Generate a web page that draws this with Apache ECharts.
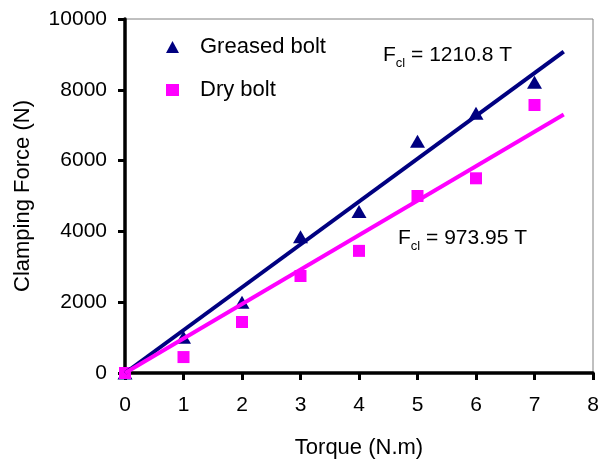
<!DOCTYPE html>
<html>
<head>
<meta charset="utf-8">
<script src="https://cdn.jsdelivr.net/npm/echarts@6/dist/echarts.min.js"></script>
<style>
html,body{margin:0;padding:0;background:#fff;}
#chart{width:606px;height:459px;}
</style>
</head>
<body>
<div id="chart"></div>
<script>
// Data
var torque = [0, 1, 2, 3, 4, 5, 6, 7];
var greasedForce = [0, 1010, 2000, 3850, 4560, 6550, 7340, 8210];
var dryForce = [0, 450, 1440, 2740, 3450, 5000, 5500, 7570];
// Fitted trend lines (F = k T), drawn from T = 0 to T = 7.5
var trendT = [0, 7.5];
var greasedTrend = [0, 9081];
var dryTrend = [0, 7305];
var xTicks = [0, 8, 1];      // min, max, interval
var yTicks = [0, 10000, 2000];
var seriesNames = ['Greased bolt', 'Dry bolt'];
var eqGreased = '1210.8 T';
var eqDry = '973.95 T';

function pairs(xs, ys) { return xs.map(function (x, i) { return [x, ys[i]]; }); }

var FONT = '"Liberation Sans", Arial, sans-serif';
var NAVY = '#000080';
var PINK = '#FF00FF';

var richEq = {
  m: {fontSize: 21, fontFamily: FONT, lineHeight: 28, verticalAlign: 'middle', fill: '#000'},
  s: {fontSize: 13, fontFamily: FONT, lineHeight: 13, verticalAlign: 'bottom', fill: '#000'}
};

var chart = echarts.init(document.getElementById('chart'), null, {renderer: 'canvas'});
chart.setOption({
  animation: false,
  backgroundColor: '#fff',
  textStyle: {fontFamily: FONT},
  grid: {left: 125, right: 13, top: 19, bottom: 86, show: true, borderColor: '#808080', borderWidth: 1,
         containLabel: false, outerBoundsMode: 'none'},
  xAxis: {
    type: 'value', min: xTicks[0], max: xTicks[1], interval: xTicks[2],
    name: 'Torque (N.m)', nameLocation: 'middle', nameGap: 64,
    nameTextStyle: {fontSize: 22, color: '#000', fontFamily: FONT},
    axisLine: {show: true, onZero: false, lineStyle: {color: '#000', width: 3.5}},
    axisTick: {show: true, inside: false, length: 7, lineStyle: {color: '#000', width: 3}},
    axisLabel: {fontSize: 21, color: '#000', margin: 22, fontFamily: FONT},
    splitLine: {show: false}
  },
  yAxis: {
    type: 'value', min: yTicks[0], max: yTicks[1], interval: yTicks[2],
    name: 'Clamping Force (N)', nameLocation: 'middle', nameGap: 91, nameRotate: 90,
    nameTextStyle: {fontSize: 22, color: '#000', fontFamily: FONT},
    axisLine: {show: true, onZero: false, lineStyle: {color: '#000', width: 3.5}},
    axisTick: {show: true, inside: false, length: 7, lineStyle: {color: '#000', width: 3}},
    axisLabel: {fontSize: 21, color: '#000', margin: 18, fontFamily: FONT,
      formatter: function (v) { return String(v); }},
    splitLine: {show: false}
  },
  legend: {
    orient: 'vertical', left: 161, top: 31, itemGap: 21,
    itemWidth: 13, itemHeight: 12,
    textStyle: {fontSize: 22, color: '#000', fontFamily: FONT, padding: [0, 0, 0, 16]},
    data: [
      {name: seriesNames[0], icon: 'triangle', itemStyle: {color: NAVY}},
      {name: seriesNames[1], icon: 'rect', itemStyle: {color: PINK}}
    ]
  },
  series: [
    {name: seriesNames[0], type: 'scatter', symbol: 'triangle', symbolSize: [15, 13],
     itemStyle: {color: NAVY, opacity: 1}, data: pairs(torque, greasedForce), z: 2},
    {name: seriesNames[1], type: 'scatter', symbol: 'rect', symbolSize: 12,
     itemStyle: {color: PINK, opacity: 1}, data: pairs(torque, dryForce), z: 2},
    {name: 'gTrend', type: 'line', showSymbol: false, symbol: 'none',
     lineStyle: {color: NAVY, width: 4}, data: pairs(trendT, greasedTrend), z: 3},
    {name: 'dTrend', type: 'line', showSymbol: false, symbol: 'none',
     lineStyle: {color: PINK, width: 4}, data: pairs(trendT, dryTrend), z: 3}
  ],
  graphic: [
    {type: 'text', left: 383, top: 45, z: 10,
     style: {text: '{m|F}{s|cl}{m| = ' + eqGreased + '}', fill: '#000', rich: richEq}},
    {type: 'text', left: 398, top: 228, z: 10,
     style: {text: '{m|F}{s|cl}{m| = ' + eqDry + '}', fill: '#000', rich: richEq}}
  ]
});
</script>
</body>
</html>
